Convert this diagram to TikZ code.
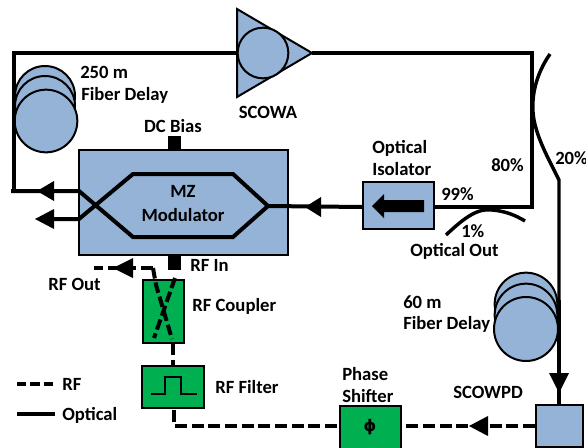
\documentclass[tikz,border=0pt]{standalone}
\usepackage{fontspec}
\setmainfont{Carlito}
\usetikzlibrary{arrows.meta}
\definecolor{boxblue}{RGB}{149,179,215}
\definecolor{boxgreen}{RGB}{0,176,80}
\tikzset{
  lbl/.style={font=\fontsize{14}{17}\bfseries\selectfont,align=left,inner sep=0pt},
  optic/.style={line width=3pt},
  rfline/.style={line width=3pt,dash pattern=on 9pt off 3.5pt},
  thinbox/.style={draw,line width=1.5pt},
  spool/.style={circle,draw,fill=boxblue,line width=1.5pt,minimum size=47pt,inner sep=0pt},
  pointer/.style={fill=black,draw=none}
}
\def\tip#1#2#3{\fill[pointer] #1 -- ++(#2) -- ++(#3) -- cycle;}
\begin{document}
\begin{tikzpicture}[x=0.75pt,y=-0.75pt]
  \useasboundingbox (0,0) rectangle (586,447);

  % SCOWA
  \draw[thinbox,fill=boxblue,line join=miter] (237,9) -- (312,53) -- (237,97) -- cycle;
  \node[circle,draw,fill=boxblue,line width=1.5pt,minimum size=38pt,inner sep=0pt] (scowa) at (263,53) {};
  \node[lbl] (scowalbl) at (268,112) {SCOWA};

  % 250 m spool
  \node[spool,minimum size=45pt] (spoolA) at (45,96) {};
  \node[spool,minimum size=45pt] (spoolB) at (45,106) {};
  \node[spool,minimum size=47pt] (spoolC) at (46,121) {};
  \node[lbl] (delayA) at (80,72) [anchor=west] {250 m};
  \node[lbl] (delayB) at (81,95) [anchor=west] {Fiber Delay};

  % loop
  \coordinate (loopA) at (14,53);
  \coordinate (loopB) at (14,191);
  \coordinate (tapA) at (532,53);
  \coordinate (tapB) at (532,207);
  \draw[optic,line join=miter] (loopB) -- (loopA) -- (scowa.west);
  \draw[optic,line join=miter] (312,53) -- (tapA) -- (tapB) -- (434,207);

  % Modulator
  \draw[thinbox,fill=boxblue] (79,150) rectangle (288,255);
  \fill (168,136) rectangle (181,150);
  \node[lbl] (dcbias) at (173,126) {DC Bias};
  \coordinate (modOut) at (268,206);
  \draw[optic,line join=miter] (11,191) -- (79,191) -- (133,237) -- (233,237) -- (modOut) -- (233,174) -- (133,174) -- (79,219) -- (50,219);
  \node[lbl,align=center] (mzlbl) at (183,204) {MZ\\[1pt]Modulator};
  \tip{(37,191)}{17,-10}{0,20}
  \tip{(35,219)}{19,-10}{0,20}

  % Isolator
  \draw[optic] (modOut) -- (363,207);
  \draw[thinbox,fill=boxblue] (363,181.5) rectangle (434,229);
  \fill (372,206) -- (384,194) -- (384,200) -- (424,200) -- (424,212) -- (384,212) -- (384,218) -- cycle;
  \tip{(305,207)}{16,-10}{0,20}
  \node[lbl,align=left] (isolbl) at (372,158) [anchor=west] {Optical\\Isolator};
  \node[lbl] (pctA) at (441,194) [anchor=west] {99\%};
  \node[lbl] (pctB) at (491,165) [anchor=west] {80\%};
  \node[lbl] (pctC) at (555,158) [anchor=west] {20\%};
  \node[lbl] (pctD) at (461,231) [anchor=west] {1\%};
  \node[lbl] (optout) at (410,251) [anchor=west] {Optical Out};

  % couplers
  \draw[line width=2.6pt] (446,235) .. controls (465,217) and (478,208) .. (492,210) .. controls (505,211) and (515,215) .. (525,221);
  \draw[line width=2.6pt,line join=miter] (550,54) .. controls (536,74) and (530,98) .. (534,120) .. controls (538,140) and (548,158) .. (559,180) -- (559,405);

  % 60 m spool
  \node[spool] (spoolD) at (526,304) {};
  \node[spool] (spoolE) at (526,315) {};
  \node[spool,minimum size=48pt] (spoolF) at (526,329) {};
  \draw[line width=2.6pt] (559,300) -- (559,405);
  \node[lbl] (delayC) at (403,302) [anchor=west] {60 m};
  \node[lbl] (delayD) at (403,324) [anchor=west] {Fiber Delay};
  \tip{(559,393)}{-10,-20}{20,0}

  % SCOWPD
  \draw[thinbox,fill=boxblue] (535.5,405) rectangle (583,447);
  \node[lbl] (pdlbl) at (453,392) [anchor=west] {SCOWPD};

  % Phase shifter
  \draw[thinbox,fill=boxgreen] (339.5,406) rectangle (401,450);
  \node[lbl] (phi) at (370,427) {\fontspec{DejaVu Sans}\bfseries\fontsize{12}{13}\selectfont ϕ};
  \node[lbl] (phlbl) at (342,385) [anchor=west,align=left] {Phase\\Shifter};
  \draw[rfline] (535,426) -- (401,426);
  \draw[rfline] (337,426) -- (174,426) -- (174,408);
  \tip{(469,426)}{19,-10}{0,20}

  % RF filter
  \draw[thinbox,fill=boxgreen] (142,366) rectangle (204,407.5);
  \draw[line width=1.5pt] (151,394) -- (165,394) -- (165,377) -- (181,377) -- (181,394) -- (197,394);
  \node[lbl] (filtlbl) at (215,387) [anchor=west] {RF Filter};

  % RF coupler
  \draw[thinbox,fill=boxgreen] (142.5,280) rectangle (184,343);
  \draw[rfline,dash pattern=on 8pt off 3pt] (153,268) -- (156,285) -- (172,339);
  \draw[rfline,dash pattern=on 8pt off 3pt] (175,278) -- (154,338);
  \draw[rfline] (173,343) -- (173,366);
  \fill (168,255) rectangle (181,270);
  \draw[rfline] (153,268) -- (94,268);
  \tip{(113,268)}{20,-10}{0,20}
  \node[lbl] (rfin) at (190,265) [anchor=west] {RF In};
  \node[lbl] (rfout) at (48,284) [anchor=west] {RF Out};
  \node[lbl] (couplbl) at (192,306) [anchor=west] {RF Coupler};

  % legend
  \coordinate (legA) at (17,384);
  \coordinate (legB) at (55,384);
  \coordinate (legC) at (17,414);
  \coordinate (legD) at (55,414);
  \draw[rfline,dash pattern=on 7pt off 3pt] (legA) -- (legB);
  \draw[optic] (legC) -- (legD);
  \node[lbl] (rflbl) at (62,384) [anchor=west] {RF};
  \node[lbl] (optlbl) at (62,415) [anchor=west] {Optical};
\end{tikzpicture}
\end{document}
